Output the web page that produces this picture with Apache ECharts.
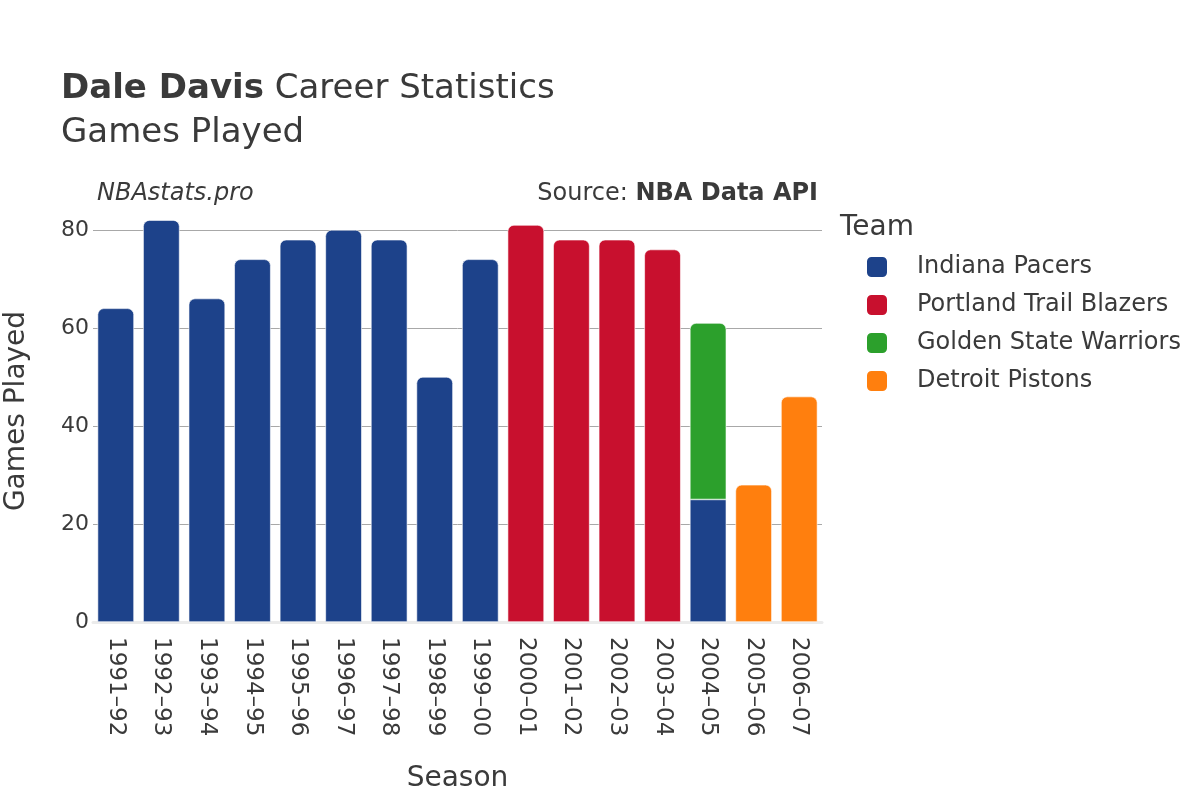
<!DOCTYPE html>
<html>
<head>
<meta charset="utf-8">
<script src="https://cdn.jsdelivr.net/npm/echarts@6/dist/echarts.min.js"></script>
<style>
  html, body { margin: 0; padding: 0; background: #fff; }
  #chart { width: 1200px; height: 800px; }
</style>
</head>
<body>
<div id="chart"></div>
<script>
const seasons = ['1991–92', '1992–93', '1993–94', '1994–95', '1995–96', '1996–97', '1997–98', '1998–99',
  '1999–00', '2000–01', '2001–02', '2002–03', '2003–04', '2004–05', '2005–06', '2006–07'];
const teams = ['Indiana Pacers', 'Portland Trail Blazers', 'Golden State Warriors', 'Detroit Pistons'];
const teamColors = ['#1d428a', '#c8102e', '#2ca02c', '#ff7f0e'];
const pacersGames   = [64, 82, 66, 74, 78, 80, 78, 50, 74, null, null, null, null, 25, null, null];
const blazersGames  = [null, null, null, null, null, null, null, null, null, 81, 78, 78, 76, null, null, null];
const warriorsGames = [null, null, null, null, null, null, null, null, null, null, null, null, null, 36, null, null];
const pistonsGames  = [null, null, null, null, null, null, null, null, null, null, null, null, null, null, 28, 46];
const yTicks = [0, 20, 40, 60, 80];

const font = 'DejaVu Sans';
const textColor = '#3a3a3a';
const allSeries = [pacersGames, blazersGames, warriorsGames, pistonsGames];

// top bar in each stack gets the rounded corners
function isTop(si, i) {
  for (let k = si + 1; k < allSeries.length; k++) {
    if (allSeries[k][i] != null) return false;
  }
  return true;
}

const series = teams.map((name, si) => ({
  name: name,
  type: 'bar',
  stack: 'games',
  barCategoryGap: '20%',
  itemStyle: { color: teamColors[si], borderColor: '#fff', borderWidth: 0.6 },
  data: allSeries[si].map((v, i) => v == null ? null : {
    value: v,
    itemStyle: { borderRadius: isTop(si, i) ? [6, 6, 0, 0] : 0 }
  })
}));

const chart = echarts.init(document.getElementById('chart'));
chart.setOption({
  animation: false,
  textStyle: { fontFamily: font },
  title: [
    {
      text: '{b|Dale Davis}{n| Career Statistics}',
      left: 61, top: 72, padding: 0,
      textStyle: {
        fontWeight: 'normal',
        rich: {
          b: { fontFamily: font, fontSize: 34, fontWeight: 'bold', color: textColor },
          n: { fontFamily: font, fontSize: 34, fontWeight: 'normal', color: textColor }
        }
      }
    },
    { text: 'Games Played', left: 61, top: 116, padding: 0, textStyle: { fontFamily: font, fontSize: 34, fontWeight: 'normal', color: textColor } },
    { text: 'NBAstats.pro', left: 97, top: 182, padding: 0, textStyle: { fontFamily: font, fontSize: 24, fontStyle: 'italic', fontWeight: 'normal', color: textColor } },
    {
      text: '{n|Source: }{b|NBA Data API}',
      right: 382, top: 182, padding: 0,
      textStyle: {
        fontWeight: 'normal',
        rich: {
          n: { fontFamily: font, fontSize: 24, fontWeight: 'normal', color: textColor },
          b: { fontFamily: font, fontSize: 24, fontWeight: 'bold', color: textColor }
        }
      }
    },
    { text: 'Team', left: 840, top: 214, padding: 0, textStyle: { fontFamily: font, fontSize: 28, fontWeight: 'normal', color: textColor } }
  ],
  legend: {
    data: teams,
    orient: 'vertical',
    left: 865, top: 255, padding: 0,
    icon: 'roundRect',
    itemWidth: 22, itemHeight: 22,
    itemGap: 14,
    textStyle: { fontFamily: font, fontSize: 24, color: textColor, padding: [0, 0, 0, 24] }
  },
  grid: { left: 93, right: 378, top: 200, bottom: 178, outerBoundsMode: 'none' },
  xAxis: {
    type: 'category',
    data: seasons,
    name: 'Season',
    nameLocation: 'middle',
    nameGap: 143,
    nameTextStyle: { fontFamily: font, fontSize: 28, color: textColor },
    axisLine: { show: true, lineStyle: { color: '#ebebeb', width: 3 } },
    axisTick: { show: false },
    axisLabel: { rotate: -90, fontFamily: font, fontSize: 23, color: textColor, margin: 15 }
  },
  yAxis: {
    type: 'value',
    min: 0, max: 86.1,
    interval: 20,
    name: 'Games Played',
    nameLocation: 'middle',
    nameGap: 62,
    nameTextStyle: { fontFamily: font, fontSize: 28, color: textColor },
    axisLine: { show: false },
    axisTick: { show: false },
    axisLabel: {
      fontFamily: font, fontSize: 22, color: textColor, margin: 4,
      formatter: v => yTicks.includes(v) ? String(v) : ''
    },
    splitLine: { showMinLine: false, showMaxLine: false, lineStyle: { color: '#a8a8a8', width: 1 } }
  },
  series: series
});
</script>
</body>
</html>
